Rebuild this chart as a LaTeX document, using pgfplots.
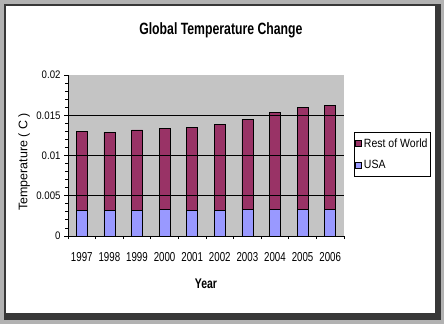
\documentclass[border=0pt]{standalone}
\usepackage{pgfplots}
\pgfplotsset{compat=1.18}
\usepackage{pgfplotstable}
\usepackage{fontspec}
\setmainfont{Liberation Sans}
\newfontfamily\cond{Liberation Sans}[FakeStretch=0.75]
\newfontfamily\semicond{Liberation Sans}[FakeStretch=0.88]
\definecolor{rowc}{HTML}{993366}
\definecolor{usac}{HTML}{9999FF}
\definecolor{plotbg}{HTML}{C4C4C4}

\pgfplotstableread{
year usa row
1997 0.00316 0.00983
1998 0.00316 0.00970
1999 0.00316 0.01002
2000 0.00328 0.01008
2001 0.00316 0.01032
2002 0.00316 0.01073
2003 0.00328 0.01120
2004 0.00328 0.01202
2005 0.00328 0.01269
2006 0.00328 0.01298
}\data

\begin{document}
\begin{tikzpicture}
\fill[black!30] (0bp,0bp) rectangle (444bp,324bp);
\fill[black!78] (4bp,4bp) rectangle (441bp,320bp);
\fill[white] (6bp,11bp) rectangle (435bp,318bp);
\useasboundingbox (0bp,0bp) rectangle (444bp,324bp);
\begin{axis}[
  at={(68bp,88bp)}, anchor=south west,
  scale only axis, width=276bp, height=161bp,
  ybar stacked, bar width=11bp,
  xmin=1996.5, xmax=2006.5, ymin=0, ymax=0.02,
  xtick={1997,...,2006},
  major x tick style={draw=none},
  minor xtick={1996.5,1997.5,...,2006.5},
  ytick={0,0.005,0.01,0.015,0.02},
  minor y tick num=4,
  scaled y ticks=false,
  axis lines*=left,
  tick align=outside,
  major tick length=4bp, minor tick length=3bp,
  every tick/.style={black, line width=0.8bp},
  axis line style={black, line width=0.8bp},
  axis background/.style={fill=plotbg},
  xticklabel style={yshift=-9bp, font=\cond\fontsize{13}{13}\selectfont, /pgf/number format/1000 sep={}, /pgf/number format/assume math mode=true},
  yticklabel style={font=\semicond\fontsize{11}{11}\selectfont, /pgf/number format/fixed, /pgf/number format/precision=3, /pgf/number format/assume math mode=true},
  title={Global Temperature Change},
  title style={at={(0.554,1.243)}, anchor=center, font=\cond\bfseries\fontsize{16.4}{17}\selectfont},
  xlabel={Year},
  xlabel style={at={(0.5,-0.298)}, anchor=center, font=\cond\bfseries\fontsize{14}{14}\selectfont},
  ylabel={Temperature ( C )},
  ylabel style={at={(-0.159,0.46)}, anchor=center, font=\fontsize{12.5}{13}\selectfont},
  reverse legend,
  legend cell align=left,
  legend style={at={(1.036,0.646)}, anchor=north west, draw=black, line width=0.8bp,
    font=\semicond\fontsize{12}{12}\selectfont, row sep=8bp, inner xsep=1bp, inner ysep=4bp,
    nodes={inner xsep=2bp}},
]
\draw[black, line width=0.9bp] (axis cs:1996.5,0.005) -- (axis cs:2006.5,0.005);
\draw[black, line width=1.8bp] (axis cs:1996.5,0.01) -- (axis cs:2006.5,0.01);
\draw[black, line width=0.9bp] (axis cs:1996.5,0.015) -- (axis cs:2006.5,0.015);
\addplot[fill=usac, draw=black, line width=0.8bp,
  legend image code/.code={\draw[fill=usac, draw=black, line width=0.6bp] (0bp,-3bp) rectangle (6bp,3bp);}]
  table[x=year,y=usa]{\data};
\addlegendentry{USA}
\addplot[fill=rowc, draw=black, line width=0.8bp,
  legend image code/.code={\draw[fill=rowc, draw=black, line width=0.6bp] (0bp,-3bp) rectangle (6bp,3bp);}]
  table[x=year,y=row]{\data};
\addlegendentry{Rest of World}
\end{axis}
\end{tikzpicture}
\end{document}
